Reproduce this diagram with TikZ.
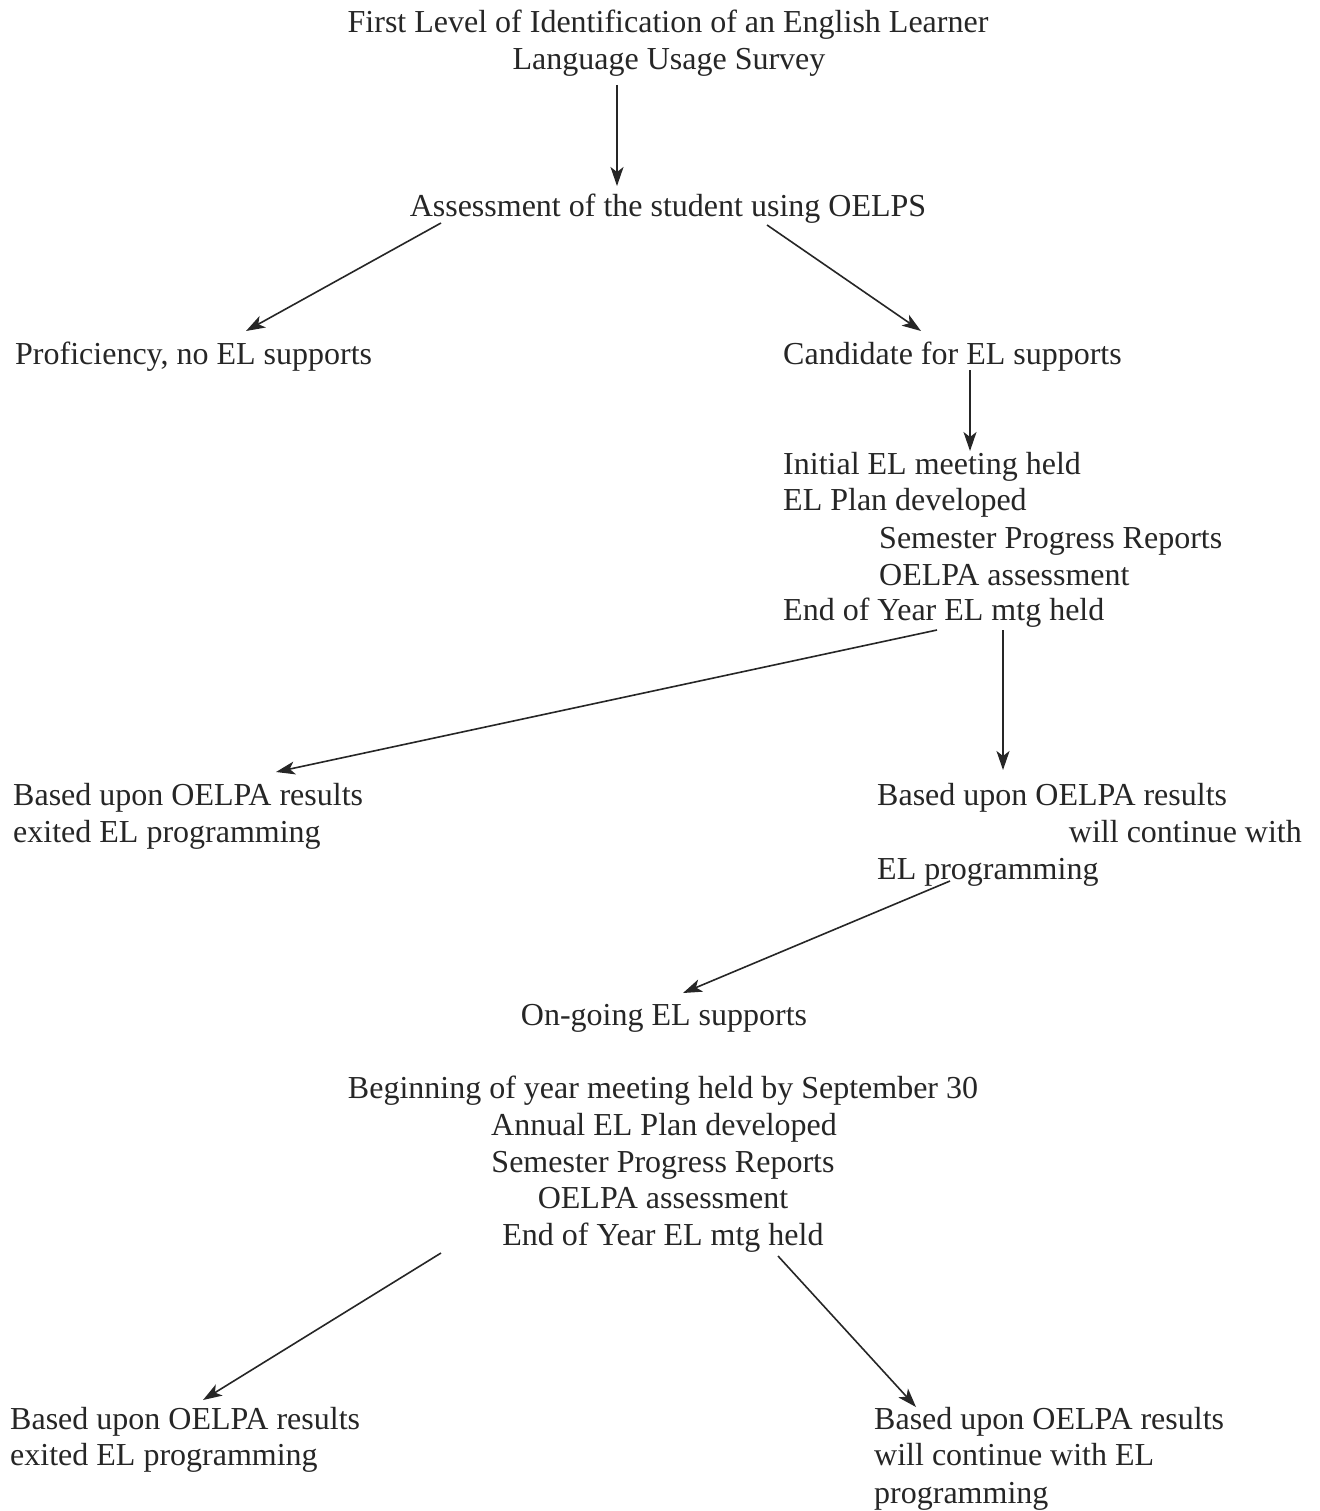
\documentclass[tikz,border=0pt]{standalone}
\usepackage{fontspec}
\setmainfont{Liberation Serif}
\usetikzlibrary{arrows.meta}
\begin{document}
\begin{tikzpicture}[x=1pt,y=-1pt,
  lbl/.style={inner sep=0pt,font=\fontsize{32}{37}\selectfont,text=black!85},
  conn/.style={draw=black!85,line width=1.6pt,-{Stealth[length=19pt,width=13pt,inset=5pt]}}]
\useasboundingbox (0,0) rectangle (1319,1511);
\fill[white] (0,0) rectangle (1319,1511);
% text
\node[lbl,anchor=base] (t1) at (668,33) {First Level of Identification of an English Learner};
\node[lbl,anchor=base] (t2) at (669,70) {Language Usage Survey};
\node[lbl,anchor=base] (assess) at (668,217) {Assessment of the student using OELPS};
\node[lbl,anchor=base west] (prof) at (15,364) {Proficiency, no EL supports};
\node[lbl,anchor=base west] (cand) at (783,364) {Candidate for EL supports};
\node[lbl,anchor=base west] (init) at (783,474) {Initial EL meeting held};
\node[lbl,anchor=base west] (plan) at (783,510) {EL Plan developed};
\node[lbl,anchor=base west] (sem) at (879,548) {Semester Progress Reports};
\node[lbl,anchor=base west] (oelpa) at (879,585) {OELPA assessment};
\node[lbl,anchor=base west] (eoy) at (783,620) {End of Year EL mtg held};
\node[lbl,anchor=base west] (exA1) at (13,805) {Based upon OELPA results};
\node[lbl,anchor=base west] (exA2) at (13,842) {exited EL programming};
\node[lbl,anchor=base west] (coA1) at (877,805) {Based upon OELPA results};
\node[lbl,anchor=base east] (coA2) at (1302,842) {will continue with};
\node[lbl,anchor=base west] (coA3) at (877,879) {EL programming};
\node[lbl,anchor=base] (ongo) at (664,1025) {On-going EL supports};
\node[lbl,anchor=base] (b1) at (663,1098) {Beginning of year meeting held by September 30};
\node[lbl,anchor=base] (b2) at (664,1135) {Annual EL Plan developed};
\node[lbl,anchor=base] (b3) at (663,1172) {Semester Progress Reports};
\node[lbl,anchor=base] (b4) at (663,1208) {OELPA assessment};
\node[lbl,anchor=base] (b5) at (663,1245) {End of Year EL mtg held};
\node[lbl,anchor=base west] (exB1) at (10,1429) {Based upon OELPA results};
\node[lbl,anchor=base west] (exB2) at (10,1465) {exited EL programming};
\node[lbl,anchor=base west] (coB1) at (874,1429) {Based upon OELPA results};
\node[lbl,anchor=base west] (coB2) at (874,1465) {will continue with EL};
\node[lbl,anchor=base west] (coB3) at (874,1503) {programming};
% connector end points
\coordinate (a1s) at (617,85);   \coordinate (a1e) at (617,186);
\coordinate (a2s) at (441,223);  \coordinate (a2e) at (246,331);
\coordinate (a3s) at (767,225);  \coordinate (a3e) at (921,331);
\coordinate (a4s) at (970,370);  \coordinate (a4e) at (970,451);
\coordinate (a5s) at (937,630);  \coordinate (a5e) at (276,772);
\coordinate (a6s) at (1003,630); \coordinate (a6e) at (1003,770);
\coordinate (a7s) at (950,881);  \coordinate (a7e) at (683,993);
\coordinate (a8s) at (441,1253); \coordinate (a8e) at (203,1400);
\coordinate (a9s) at (778,1256); \coordinate (a9e) at (916,1407);
\draw[conn] (a1s) -- (a1e);
\draw[conn] (a2s) -- (a2e);
\draw[conn] (a3s) -- (a3e);
\draw[conn] (a4s) -- (a4e);
\draw[conn] (a5s) -- (a5e);
\draw[conn] (a6s) -- (a6e);
\draw[conn] (a7s) -- (a7e);
\draw[conn] (a8s) -- (a8e);
\draw[conn] (a9s) -- (a9e);
\end{tikzpicture}
\end{document}
